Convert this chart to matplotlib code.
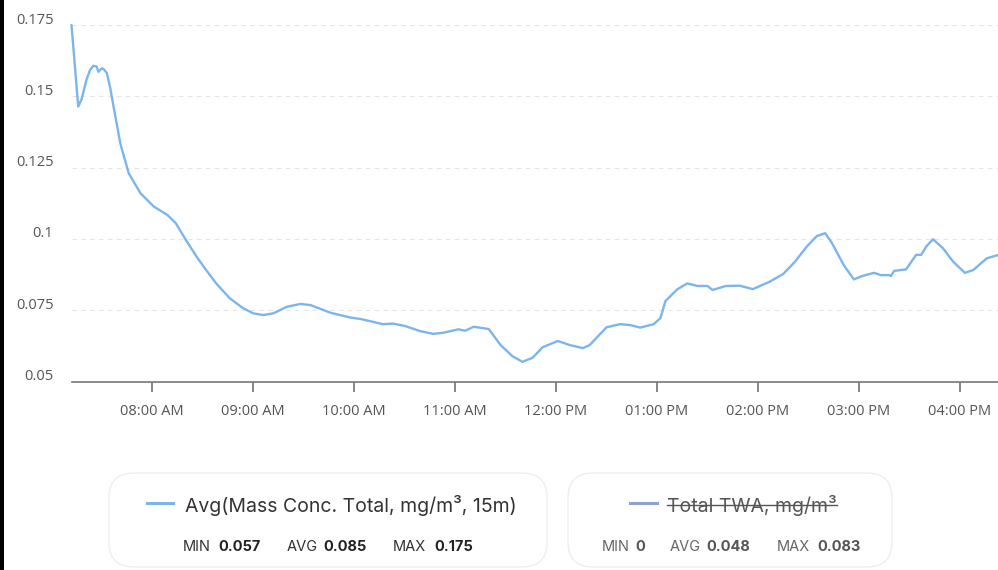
import matplotlib
matplotlib.use("Agg")
import matplotlib.pyplot as plt
import matplotlib.dates as mdates
import matplotlib.transforms as mtrans
from matplotlib.patches import FancyBboxPatch, Rectangle
from matplotlib.lines import Line2D
import pandas as pd

# ---- data ----
times = ["07:12", "07:16", "07:18", "07:21", "07:23", "07:25", "07:27", "07:28",
         "07:30", "07:31", "07:33", "07:35", "07:37", "07:41",
         "07:46", "07:53", "08:01", "08:09", "08:14", "08:20", "08:27", "08:32", "08:38",
         "08:46", "08:54", "09:00", "09:06", "09:12", "09:20", "09:28", "09:34", "09:46",
         "09:58", "10:04", "10:17", "10:23", "10:30", "10:39", "10:47", "10:53", "11:02",
         "11:06", "11:11", "11:20", "11:27", "11:34", "11:40", "11:46", "11:52", "12:01",
         "12:08", "12:16", "12:20", "12:30", "12:38", "12:44", "12:50", "12:58", "13:02",
         "13:05", "13:12", "13:18", "13:24", "13:30", "13:33", "13:41", "13:49", "13:57",
         "14:07", "14:15", "14:22", "14:29", "14:35", "14:40", "14:44", "14:51", "14:57",
         "15:02", "15:09", "15:13", "15:18", "15:19", "15:21", "15:28", "15:34", "15:37",
         "15:40", "15:44", "15:50", "15:56", "16:03", "16:08", "16:16", "16:23"]
values = [0.175, 0.1464, 0.1490, 0.1560, 0.1592, 0.1607, 0.1604, 0.1586,
          0.1598, 0.1596, 0.1582, 0.1530, 0.1464, 0.1335,
          0.1230, 0.1160, 0.1113, 0.1084, 0.1055, 0.0996, 0.0932, 0.0891, 0.0844,
          0.0792, 0.0757, 0.0739, 0.0733, 0.0739, 0.0762, 0.0772, 0.0768, 0.0741,
          0.0724, 0.0719, 0.0701, 0.0703, 0.0695, 0.0677, 0.0667, 0.0671, 0.0683,
          0.0678, 0.0692, 0.0684, 0.0628, 0.0589, 0.0569, 0.0583, 0.0620, 0.0642,
          0.0628, 0.0617, 0.0628, 0.0690, 0.0701, 0.0698, 0.0689, 0.0701, 0.0722,
          0.0782, 0.0823, 0.0844, 0.0835, 0.0835, 0.0821, 0.0835, 0.0836, 0.0824,
          0.0850, 0.0877, 0.0920, 0.0973, 0.1010, 0.1020, 0.0985, 0.0908, 0.0858,
          0.0870, 0.0881, 0.0873, 0.0873, 0.0870, 0.0888, 0.0893, 0.0944, 0.0944,
          0.0973, 0.0999, 0.0967, 0.0920, 0.0881, 0.0891, 0.0932, 0.0944]
y_ticks = [0.05, 0.075, 0.1, 0.125, 0.15, 0.175]
y_tick_labels = ["0.05", "0.075", "0.1", "0.125", "0.15", "0.175"]
x_tick_times = ["08:00", "09:00", "10:00", "11:00", "12:00", "13:00", "14:00", "15:00", "16:00"]

series1_name = "Avg(Mass Conc. Total, mg/m³, 15m)"
series1_stats = [("MIN", "0.057"), ("AVG", "0.085"), ("MAX", "0.175")]
series2_name = "Total TWA, mg/m³"
series2_stats = [("MIN", "0"), ("AVG", "0.048"), ("MAX", "0.083")]

DATE = "2024-01-01 "
t = pd.to_datetime([DATE + s for s in times])
xt = pd.to_datetime([DATE + s for s in x_tick_times])

W, H = 998, 570
fig = plt.figure(figsize=(W / 100, H / 100), dpi=100)
fig.patch.set_facecolor("white")

def fx(px):
    return px / W

def fy(py):
    return 1 - py / H

ax = fig.add_axes([fx(71.5), fy(381.5), fx(998) - fx(71.5), fy(25) - fy(381.5)])
ax.plot(t, values, color="#7cb5ec", lw=1.7, solid_joinstyle="round", solid_capstyle="round",
        clip_on=False, zorder=3)
ax.set_ylim(0.05, 0.175)
ax.set_xlim(pd.Timestamp(DATE + "07:12"), pd.Timestamp(DATE + "16:22:40"))

for s in ["top", "right", "left"]:
    ax.spines[s].set_visible(False)
ax.spines["bottom"].set_color("#777777")
ax.spines["bottom"].set_linewidth(1.2)

ax.set_yticks(y_ticks)
ax.set_yticklabels(y_tick_labels)
ax.tick_params(axis="y", length=0, pad=13, labelsize=10.5, labelcolor="#555555")
for yv in y_ticks[1:]:
    ax.axhline(yv, color="#e6e6e6", lw=0.8, ls=(0, (4, 4)), zorder=1)
off = mtrans.ScaledTranslation(0, 5 / 72, fig.dpi_scale_trans)
for lab in ax.get_yticklabels():
    lab.set_transform(lab.get_transform() + off)
    lab.set_fontfamily("Open Sans")

ax.set_xticks(xt)
ax.xaxis.set_major_formatter(mdates.DateFormatter("%I:%M %p"))
ax.tick_params(axis="x", length=7.5, width=1.1, color="#666666", pad=9,
               labelsize=10.5, labelcolor="#555555")
for lab in ax.get_xticklabels():
    lab.set_fontfamily("Open Sans")

# left black strip
fig.patches.append(Rectangle((0, 0), fx(4), 1, transform=fig.transFigure,
                             facecolor="black", edgecolor="none", zorder=10))

# legend boxes
def box(x0, y0, x1, y1):
    p = FancyBboxPatch((fx(x0), fy(y1)), fx(x1) - fx(x0), fy(y0) - fy(y1),
                       boxstyle="round,pad=0,rounding_size=0.025",
                       transform=fig.transFigure, facecolor="white",
                       edgecolor="#eeeeee", lw=1.0, mutation_aspect=W / H)
    fig.patches.append(p)

box(109, 473, 547, 567)
box(568, 473, 892, 567)

LF = ["Inter", "DejaVu Sans"]
fig.add_artist(Line2D([fx(147), fx(173)], [fy(503), fy(503)], color="#7cb5ec", lw=2.2,
                      transform=fig.transFigure))
fig.text(fx(185), fy(505), series1_name, fontsize=14, color="#333333", family=LF,
         va="center", ha="left")

fig.add_artist(Line2D([fx(630), fx(657)], [fy(503), fy(503)], color="#8ea2cf", lw=2.2,
                      transform=fig.transFigure))
t2 = fig.text(fx(667), fy(505), series2_name, fontsize=14, color="#555555", family=LF,
              va="center", ha="left")

def stats_row(stats, x_labels, x_vals, lc, vc):
    for (lab, val), xl, xv in zip(stats, x_labels, x_vals):
        fig.text(fx(xl), fy(547), lab, fontsize=10.5, color=lc, family=LF, va="center")
        fig.text(fx(xv), fy(547), val, fontsize=10.5, color=vc, family=LF,
                 weight="bold", va="center")

stats_row(series1_stats, [183, 287, 393], [218, 323, 434], "#333333", "#222222")
stats_row(series2_stats, [602, 670, 777], [635, 706, 817], "#666666", "#555555")

# strike-through for hidden series
fig.canvas.draw()
bb = t2.get_window_extent()
ys = fy(505)
fig.add_artist(Line2D([bb.x0 / W, bb.x1 / W], [ys, ys], color="#555555", lw=1.0,
                      transform=fig.transFigure))

fig.savefig("out.png", dpi=100)
